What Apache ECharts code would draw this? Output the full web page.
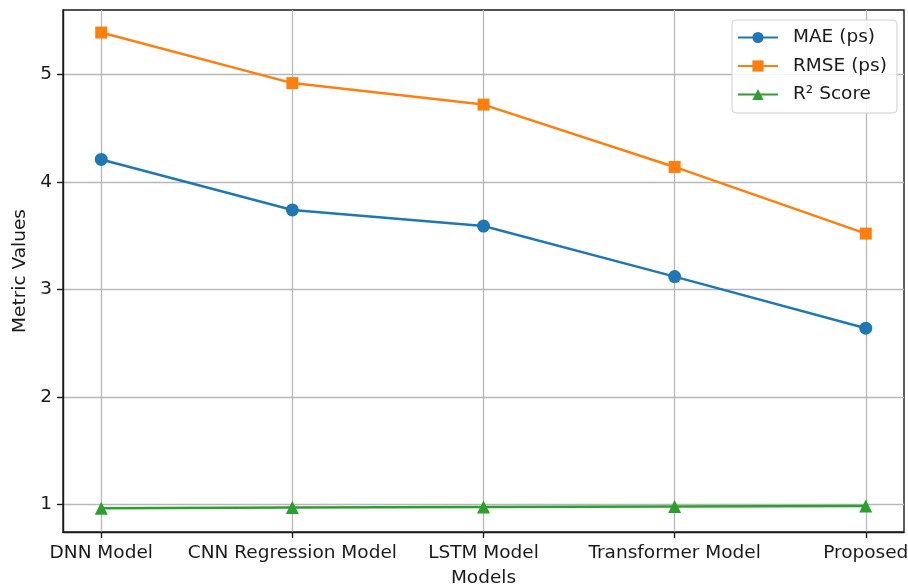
<!DOCTYPE html>
<html>
<head>
<meta charset="utf-8">
<script src="https://cdn.jsdelivr.net/npm/echarts@6/dist/echarts.min.js"></script>
<style>
  html, body { margin: 0; padding: 0; background: #fff; }
  #chart { width: 908px; height: 587px; }
</style>
</head>
<body>
<div id="chart"></div>
<script>
// Model comparison: error metrics and R² per model
const models = ['DNN Model', 'CNN Regression Model', 'LSTM Model', 'Transformer Model', 'Proposed'];
const mae = [4.21, 3.74, 3.59, 3.12, 2.64];
const rmse = [5.39, 4.92, 4.72, 4.14, 3.52];
const r2 = [0.965, 0.972, 0.977, 0.981, 0.986];
const yTicks = [1, 2, 3, 4, 5];
const xTicks = models.map((_, i) => i);

const FONT = 'DejaVu Sans';
const INK = '#1a1a1a';
const pairs = arr => arr.map((v, i) => [i, v]);

const chart = echarts.init(document.getElementById('chart'), null, { renderer: 'canvas' });

const lineSeries = (name, data, color, symbol, size) => ({
  name: name,
  type: 'line',
  data: pairs(data),
  symbol: symbol,
  symbolSize: size,
  showSymbol: true,
  lineStyle: { color: color, width: 2.5 },
  itemStyle: { color: color },
  emphasis: { disabled: true },
  animation: false
});

const axisBase = {
  axisLine: { show: true, onZero: false, lineStyle: { color: INK, width: 1.4 } },
  splitLine: { show: true, lineStyle: { color: '#b8b8b8', width: 1.3 } }
};

chart.setOption({
  animation: false,
  grid: {
    left: 63, right: 4, top: 10, bottom: 55,
    show: true, borderColor: INK, borderWidth: 1.4,
    containLabel: false, outerBoundsMode: 'none'
  },
  legend: {
    orient: 'vertical',
    left: 732, top: 20,
    padding: [8, 10, 9, 5],
    itemWidth: 40, itemHeight: 14, itemGap: 9.5,
    backgroundColor: 'rgba(255,255,255,0.85)',
    borderColor: '#d0d0d0', borderWidth: 1, borderRadius: 4,
    textStyle: { fontFamily: FONT, fontSize: 18.5, color: INK, padding: [0, 0, 0, 10] },
    data: ['MAE (ps)', 'RMSE (ps)', 'R² Score']
  },
  xAxis: Object.assign({}, axisBase, {
    type: 'value',
    min: -0.2, max: 4.2,
    name: 'Models', nameLocation: 'middle', nameGap: 37,
    nameTextStyle: { fontFamily: FONT, fontSize: 18.5, color: INK },
    axisTick: { show: true, inside: false, customValues: xTicks, length: 6, lineStyle: { color: INK, width: 1.4 } },
    axisLabel: {
      customValues: xTicks, margin: 12,
      fontFamily: FONT, fontSize: 18.5, color: INK,
      formatter: v => models[Math.round(v)]
    }
  }),
  yAxis: Object.assign({}, axisBase, {
    type: 'value',
    min: 0.744, max: 5.6,
    name: 'Metric Values', nameLocation: 'middle', nameGap: 32,
    nameTextStyle: { fontFamily: FONT, fontSize: 18.5, color: INK },
    axisTick: { show: true, inside: false, customValues: yTicks, length: 6, lineStyle: { color: INK, width: 1.4 } },
    axisLabel: { customValues: yTicks, margin: 11, fontFamily: FONT, fontSize: 18.5, color: INK }
  }),
  series: [
    lineSeries('MAE (ps)', mae, '#1f77b4', 'circle', 13),
    lineSeries('RMSE (ps)', rmse, '#ff7f0e', 'rect', 12),
    lineSeries('R² Score', r2, '#2ca02c', 'triangle', 13)
  ]
});
</script>
</body>
</html>
